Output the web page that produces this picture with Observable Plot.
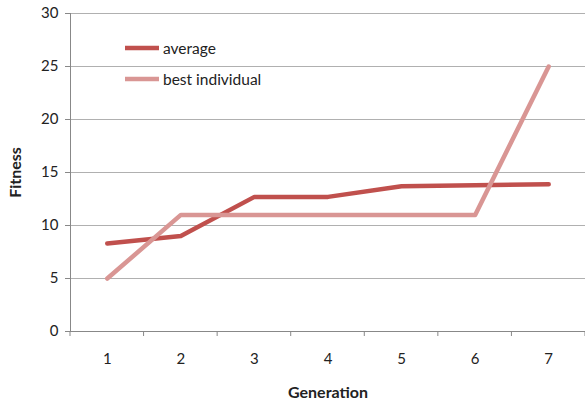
<!DOCTYPE html>
<html>
<head>
<meta charset="utf-8">
<script src="https://cdn.jsdelivr.net/npm/d3@7"></script>
<script src="https://cdn.jsdelivr.net/npm/@observablehq/plot@0.6"></script>
<style>
  body { margin: 0; background: #fff; }
  #wrap { position: relative; width: 585px; height: 405px; font-family: Lato, "Open Sans", sans-serif; }
  #legend { position: absolute; left: 124px; top: 32px; font-size: 15.5px; color: #222; }
  #legend .row { display: flex; align-items: center; height: 31px; }
  #legend svg { margin-right: 3px; }
</style>
</head>
<body>
<div id="wrap">
  <div id="chart"></div>
  <div id="legend"></div>
</div>
<script>
const generations = [1, 2, 3, 4, 5, 6, 7];
const average = [8.3, 9.0, 12.7, 12.7, 13.7, 13.8, 13.9];
const best = [5, 11, 11, 11, 11, 11, 25];
const yTicks = [0, 5, 10, 15, 20, 25, 30];
const seriesNames = ["average", "best individual"];
const seriesColors = ["#C0504D", "#D99694"];

const rows = [];
generations.forEach((g, i) => {
  rows.push({gen: g, value: average[i], series: seriesNames[0]});
});
generations.forEach((g, i) => {
  rows.push({gen: g, value: best[i], series: seriesNames[1]});
});
const boundaries = d3.range(generations.length + 1).map(i => generations[0] - 0.5 + i);

const chart = Plot.plot({
  width: 585,
  height: 405,
  marginLeft: 70,
  marginRight: 0,
  marginTop: 13,
  marginBottom: 74,
  style: {fontFamily: "Lato, 'Open Sans', sans-serif", fontSize: "15px", color: "#222"},
  x: {type: "linear", domain: [boundaries[0], boundaries[boundaries.length - 1]], axis: null},
  y: {domain: [0, 30], axis: null},
  color: {domain: seriesNames, range: seriesColors},
  marks: [
    Plot.gridY(yTicks, {stroke: "#b0b0b0", strokeOpacity: 1, strokeWidth: 1}),
    Plot.ruleX([boundaries[0]], {stroke: "#888", strokeWidth: 1}),
    Plot.ruleY([0], {stroke: "#888", strokeWidth: 1}),
    Plot.axisY({ticks: yTicks, tickSize: 5, tickPadding: 7, stroke: "#888", fontSize: 15, label: null}),
    Plot.axisX({ticks: generations, tickSize: 0, tickPadding: 22, fontSize: 15, label: null, tickFormat: d => String(d)}),
    Plot.line(rows, {x: "gen", y: "value", stroke: "series", z: "series", strokeWidth: 4.5, strokeLinecap: "round", strokeLinejoin: "round"}),
    Plot.text(["Generation"], {frameAnchor: "bottom", dy: 66, fontWeight: "bold", fontSize: 16}),
    Plot.text(["Fitness"], {frameAnchor: "left", textAnchor: "middle", dx: -55, rotate: -90, fontWeight: "bold", fontSize: 16})
  ]
});
document.getElementById("chart").appendChild(chart);

// Short boundary tick marks under the category axis
const xs = chart.scale("x");
const ys = chart.scale("y");
const svg = d3.select(chart);
svg.append("g").selectAll("line").data(boundaries).join("line")
  .attr("x1", d => xs.apply(d)).attr("x2", d => xs.apply(d))
  .attr("y1", ys.apply(0)).attr("y2", ys.apply(0) + 5)
  .attr("stroke", "#888");

const legend = d3.select("#legend");
seriesNames.forEach((name, i) => {
  const row = legend.append("div").attr("class", "row");
  const s = row.append("svg").attr("width", 36).attr("height", 6);
  s.append("line").attr("x1", 1).attr("x2", 35).attr("y1", 3).attr("y2", 3)
    .attr("stroke", seriesColors[i]).attr("stroke-width", 4.5);
  row.append("span").text(name);
});
</script>
</body>
</html>
